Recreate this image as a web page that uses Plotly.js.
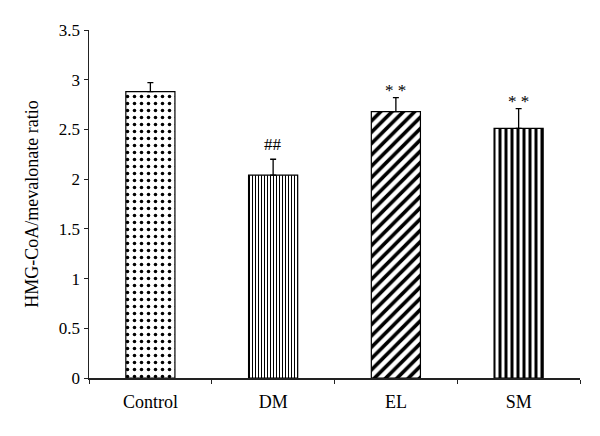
<!DOCTYPE html>
<html>
<head>
<meta charset="utf-8">
<script src="https://cdn.plot.ly/plotly-3.0.1.min.js"></script>
<style>html,body{margin:0;padding:0;background:#fff;}#chart{width:600px;height:436px;}</style>
</head>
<body>
<div id="chart"></div>
<script>
const categories = ["Control", "DM", "EL", "SM"];
const values = [2.88, 2.04, 2.68, 2.51];
const errors = [0.09, 0.16, 0.14, 0.20];
const marks = ["", "##", "* *", "* *"];
const yTicks = [0, 0.5, 1, 1.5, 2, 2.5, 3, 3.5];
const yTickLabels = ["0", "0.5", "1", "1.5", "2", "2.5", "3", "3.5"];

const patterns = [
  {shape: ".", size: 7, solidity: 0.2, fgcolor: "#000", fgopacity: 1, bgcolor: "#fff", fillmode: "replace"},
  {shape: "|", size: 3, solidity: 0.35, fgcolor: "#000", fgopacity: 1, bgcolor: "#fff", fillmode: "replace"},
  {shape: "/", size: 8, solidity: 0.45, fgcolor: "#000", fgopacity: 1, bgcolor: "#fff", fillmode: "replace"},
  {shape: "|", size: 6, solidity: 0.5, fgcolor: "#000", fgopacity: 1, bgcolor: "#fff", fillmode: "replace"}
];

const traces = categories.map((c, i) => ({
  type: "bar",
  x: [c],
  y: [values[i]],
  width: 0.4,
  marker: {color: "#fff", line: {color: "#000", width: 1.2}, pattern: patterns[i]},
  error_y: {type: "data", symmetric: false, array: [errors[i]], arrayminus: [0], color: "#000", thickness: 1.3, width: 3},
  showlegend: false,
  hoverinfo: "skip"
}));

const annotations = categories.map((c, i) => ({
  x: c, y: values[i] + errors[i], text: marks[i], showarrow: false,
  yanchor: "bottom", yshift: marks[i].indexOf("#") >= 0 ? 3 : -4,
  font: {family: "Liberation Serif, serif", size: 17, color: "#000"}
})).filter(a => a.text);

const layout = {
  width: 600, height: 436,
  margin: {l: 89, r: 20, t: 30, b: 58},
  paper_bgcolor: "#fff", plot_bgcolor: "#fff",
  font: {family: "Liberation Serif, serif", size: 17, color: "#000"},
  bargap: 0.6,
  xaxis: {
    type: "category", categoryorder: "array", categoryarray: categories,
    showline: true, linecolor: "#222", linewidth: 1.5,
    ticks: "outside", tickson: "boundaries", ticklen: 4, tickcolor: "#222",
    showgrid: false, zeroline: false,
    ticklabelstandoff: 7,
    tickfont: {size: 18}
  },
  yaxis: {
    range: [0, 3.5], tickvals: yTicks, ticktext: yTickLabels,
    showline: true, linecolor: "#222", linewidth: 1.5,
    ticks: "outside", ticklen: 4, tickcolor: "#222",
    showgrid: false, zeroline: false,
    tickfont: {size: 17},
    title: {text: "HMG-CoA/mevalonate ratio", font: {size: 18}, standoff: 15}
  },
  annotations: annotations
};

Plotly.newPlot("chart", traces, layout, {displayModeBar: false, staticPlot: true});
</script>
</body>
</html>
